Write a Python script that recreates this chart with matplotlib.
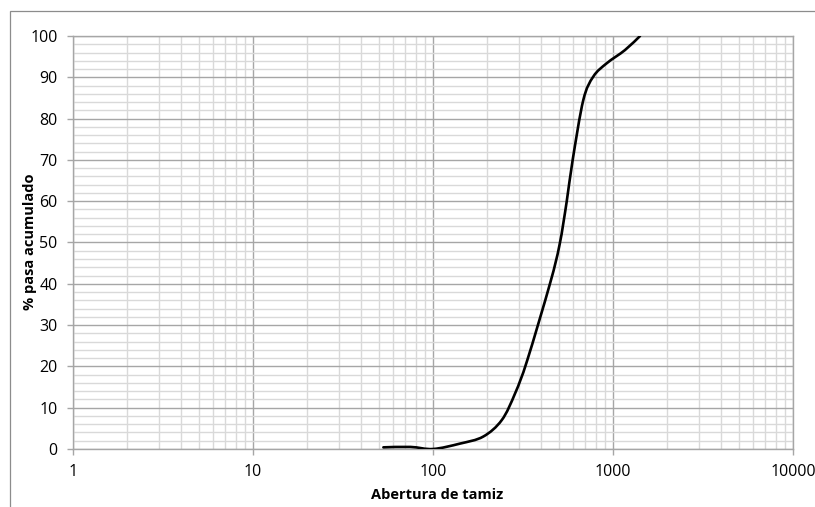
import numpy as np
import matplotlib
matplotlib.use("Agg")
import matplotlib.pyplot as plt
from matplotlib.path import Path
from matplotlib.patches import PathPatch, Rectangle
from matplotlib.ticker import LogLocator, MultipleLocator, FixedLocator, NullFormatter

# Sieve opening (log scale) and cumulative percent passing
abertura = [53, 75, 100, 141, 190, 241, 286, 334, 447, 505, 553, 597, 684, 778, 923, 1166, 1413]
pasa = [0.4, 0.5, 0.0, 1.3, 3.0, 7.0, 13.5, 21.5, 40.1, 49.5, 59.9, 70.0, 84.5, 90.2, 93.4, 96.6, 100.0]

x_ticks = [1, 10, 100, 1000, 10000]
x_tick_labels = ["1", "10", "100", "1000", "10000"]
y_ticks = list(range(0, 101, 10))

plt.rcParams['font.family'] = ['Open Sans', 'DejaVu Sans']

W, H = 815, 507
fig = plt.figure(figsize=(W / 100, H / 100), dpi=100)

# chart-area frame
fig.add_artist(Rectangle((10 / W, -0.1), 2.0, 1 - 11 / H + 0.1, transform=fig.transFigure,
                         fill=False, edgecolor="#8c8c8c", linewidth=0.9))

ax = fig.add_axes([73 / W, 1 - 449 / H, (793 - 73) / W, (449 - 36) / H])
ax.set_xscale("log")
ax.set_xlim(1, 10000)
ax.set_ylim(0, 100)

ax.xaxis.set_major_locator(FixedLocator(x_ticks))
ax.set_xticklabels(x_tick_labels)
ax.xaxis.set_minor_locator(LogLocator(base=10, subs=np.arange(2, 10), numticks=20))
ax.xaxis.set_minor_formatter(NullFormatter())
ax.yaxis.set_major_locator(FixedLocator(y_ticks))
ax.yaxis.set_minor_locator(MultipleLocator(2))

ax.grid(which="minor", color="#d9d9d9", linewidth=1.0)
ax.grid(which="major", color="#a6a6a6", linewidth=1.0)
ax.set_axisbelow(True)

for s in ax.spines.values():
    s.set_color("#a6a6a6")
    s.set_linewidth(1.0)

ax.tick_params(which="major", length=4, width=1.0, color="#a6a6a6", labelsize=11.5,
               labelcolor="#000000")
ax.tick_params(axis="y", pad=7)
ax.tick_params(axis="x", pad=7)
ax.tick_params(which="minor", length=0)

# smoothed curve: Catmull-Rom segments as cubic Bezier in (log x, y) space
lx = np.log10(abertura)
py = np.array(pasa, dtype=float)
pts = np.column_stack([lx, py])
n = len(pts)
verts = [pts[0]]
codes = [Path.MOVETO]
for i in range(n - 1):
    p0 = pts[i - 1] if i > 0 else pts[i]
    p1 = pts[i]
    p2 = pts[i + 1]
    p3 = pts[i + 2] if i + 2 < n else pts[i + 1]
    c1 = p1 + (p2 - p0) / 6.0
    c2 = p2 - (p3 - p1) / 6.0
    verts += [c1, c2, p2]
    codes += [Path.CURVE4] * 3
verts = np.array(verts)
verts[:, 0] = 10 ** verts[:, 0]
ax.add_patch(PathPatch(Path(verts, codes), facecolor="none", edgecolor="black",
                       linewidth=1.9, capstyle="round", joinstyle="round", zorder=3))

fig.text(437 / W, 1 - 499 / H, "Abertura de tamiz", fontsize=10.5, fontweight="bold",
         ha="center", va="baseline")
fig.text(30 / W, 1 - 242 / H, "% pasa acumulado", fontsize=10.5, fontweight="bold",
         ha="center", va="center", rotation=90)

fig.savefig("out.png", dpi=100)
